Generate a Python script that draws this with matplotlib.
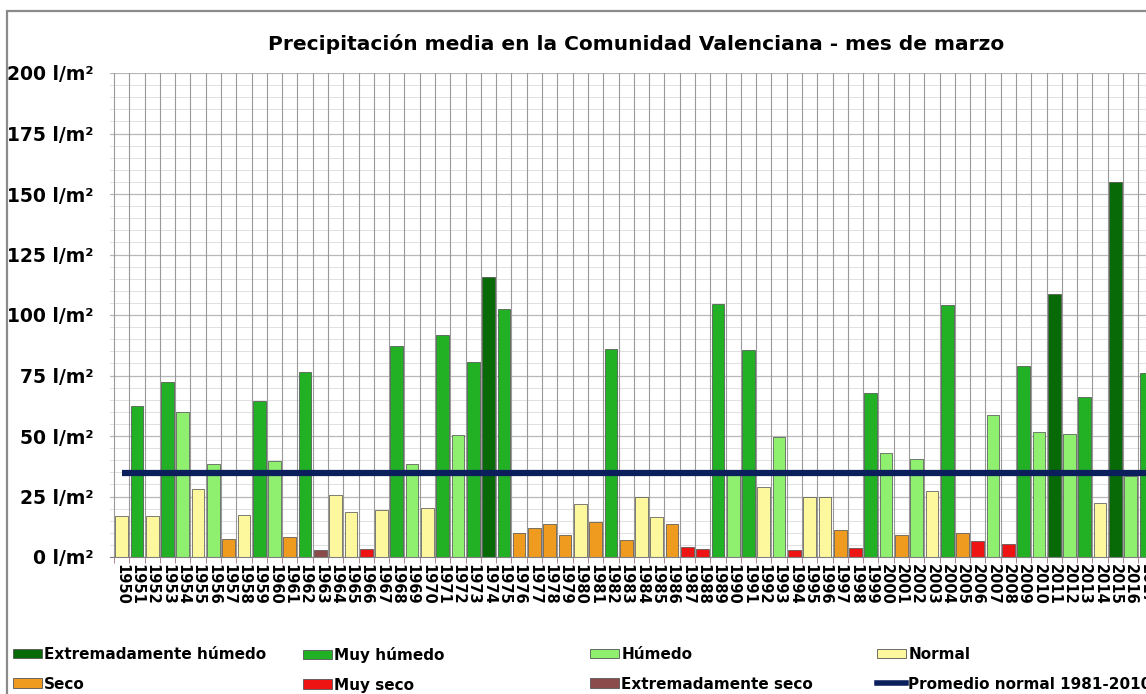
import matplotlib
matplotlib.use("Agg")
from matplotlib import pyplot as plt
from matplotlib.patches import Patch, Rectangle
from matplotlib.lines import Line2D

# datos (l/m2, marzo)
anios = list(range(1950, 2018))
precipitacion = [
    17.0, 62.4, 17.0, 72.2, 60.0, 28.2, 38.4, 7.6, 17.4, 64.5,
    39.7, 8.1, 76.3, 2.9, 25.6, 18.4, 3.2, 19.4, 87.3, 38.4,
    20.4, 91.7, 50.4, 80.7, 115.8, 102.5, 9.8, 11.8, 13.6, 8.9,
    21.9, 14.3, 86.1, 7.0, 24.7, 16.4, 13.8, 4.1, 3.4, 104.7,
    34.0, 85.4, 28.8, 49.6, 2.9, 24.9, 24.9, 11.2, 3.9, 67.6,
    43.1, 9.1, 40.5, 27.3, 104.1, 10.0, 6.6, 58.7, 5.5, 78.9,
    51.8, 108.5, 51.0, 66.3, 22.4, 155.0, 33.5, 76.0,
]
# EH, MH, H, N, S, MS, ES
categoria = [
    'N', 'MH', 'N', 'MH', 'H', 'N', 'H', 'S', 'N', 'MH',
    'H', 'S', 'MH', 'ES', 'N', 'N', 'MS', 'N', 'MH', 'H',
    'N', 'MH', 'H', 'MH', 'EH', 'MH', 'S', 'S', 'S', 'S',
    'N', 'S', 'MH', 'S', 'N', 'N', 'S', 'MS', 'MS', 'MH',
    'H', 'MH', 'N', 'H', 'MS', 'N', 'N', 'S', 'MS', 'MH',
    'H', 'S', 'H', 'N', 'MH', 'S', 'MS', 'H', 'MS', 'MH',
    'H', 'EH', 'H', 'MH', 'N', 'EH', 'H', 'MH',
]
promedio_normal = 34.7

nombres = {
    'EH': 'Extremadamente húmedo',
    'MH': 'Muy húmedo',
    'H': 'Húmedo',
    'N': 'Normal',
    'S': 'Seco',
    'MS': 'Muy seco',
    'ES': 'Extremadamente seco',
}
colores = {
    'EH': '#076a07',
    'MH': '#22b124',
    'H': '#8fef6f',
    'N': '#fdf79e',
    'S': '#ee9b20',
    'MS': '#ee1414',
    'ES': '#8b4b4b',
}
color_linea = '#0b1f5c'

fig = plt.figure(figsize=(11.46, 6.94), dpi=100)
ax = fig.add_axes([110 / 1146, 1 - 557 / 694, 1 - 110 / 1146, (557 - 73) / 694])

# rejilla
for v in range(0, 201, 5):
    if v % 25 == 0:
        ax.axhline(v, color='#b8b8b8', lw=0.9, zorder=0)
    else:
        ax.axhline(v, color='#e0e0e0', lw=0.7, zorder=0)
for a in anios:
    ax.axvline(a - 0.5, color='#999999', lw=0.8, zorder=0)

ax.bar(anios, precipitacion, width=0.83,
       color=[colores[c] for c in categoria],
       edgecolor='#4a4a4a', linewidth=0.5, zorder=2)

ax.plot([anios[0], anios[-1]], [promedio_normal, promedio_normal],
        color=color_linea, lw=4.5, solid_capstyle='butt', zorder=3)

ax.set_xlim(1949.24, 2016.95)
ax.set_ylim(0, 200)
ax.set_yticks(range(0, 201, 25))
ax.set_yticklabels([f'{v} l/m²' for v in range(0, 201, 25)],
                   fontsize=13.5, fontweight='bold')
ax.set_xticks(anios)
ax.set_xticklabels([str(a) for a in anios], rotation=-90,
                   fontsize=10.5, fontweight='bold', va='top', ha='center')
ax.set_xticks([a - 0.5 for a in anios], minor=True)
ax.tick_params(axis='y', length=0, pad=12)
ax.tick_params(axis='x', which='major', length=0, pad=5)
ax.tick_params(axis='x', which='minor', length=4, color='#a07080')
for s in ['top', 'right', 'left']:
    ax.spines[s].set_visible(False)
ax.spines['bottom'].set_color('#808080')
ax.set_facecolor('none')

fig.text(636 / 1146, 1 - 44 / 694,
         'Precipitación media en la Comunidad Valenciana - mes de marzo',
         ha='center', va='center', fontsize=14.5, fontweight='bold')

# marco exterior
fig.patches.append(Rectangle((7 / 1146, -0.05), 1.2, 1.05 - 11 / 694,
                             transform=fig.transFigure, fill=False,
                             edgecolor='#8a8a8a', lw=1.6))

# leyenda en cuatro columnas
columnas = [
    (13, ['EH', 'S']),
    (303, ['MH', 'MS']),
    (590, ['H', 'ES']),
    (877, ['N', None]),
]
for x, claves in columnas:
    handles = []
    for c in claves:
        if c is None:
            handles.append(Line2D([0], [0], color=color_linea, lw=4,
                                  label='Promedio normal 1981-2010'))
        else:
            handles.append(Patch(facecolor=colores[c], edgecolor='#555555',
                                 lw=0.6, label=nombres[c]))
    fig.legend(handles=handles, loc='upper left',
               bbox_to_anchor=(x / 1146, 1 - 647 / 694),
               frameon=False, borderaxespad=0, borderpad=0,
               handlelength=1.9, handleheight=0.6, handletextpad=0.15,
               labelspacing=0.95, prop={'size': 11, 'weight': 'bold'})

fig.savefig('out.png', dpi=100)
